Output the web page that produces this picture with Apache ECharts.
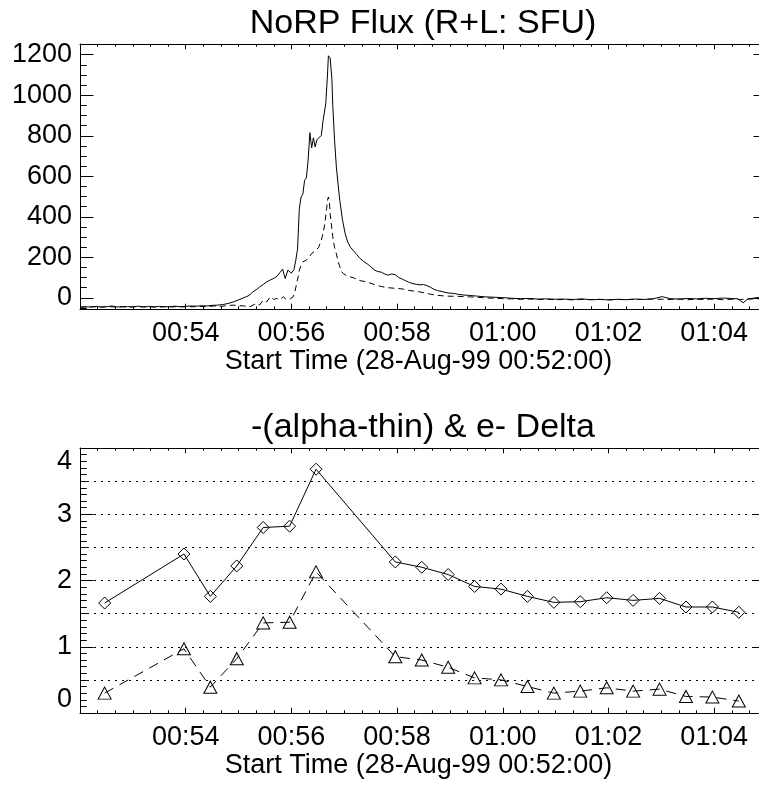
<!DOCTYPE html>
<html><head><meta charset="utf-8">
<script src="https://cdn.jsdelivr.net/npm/echarts@6/dist/echarts.min.js"></script>
<style>html,body{margin:0;padding:0;background:#fff}#c{width:759px;height:786px}</style>
</head><body><div id="c"></div>
<script>
// seconds after 00:52:00
const solidTimes = [0,6,12,18,24,30,36,42,48,54,60,66,72,78,84,90,96,102,108,114,120,126,132,138,144,150,156,162,168,174,180,184,188,192,196,200,204,208,212,216,220,224,227,230,233,236,240,243,245,247,249,251,253,255,257,259,261,263,265,267,269,271,274,276,279,281,282,284,286,287,289,291,293,295,298,301,304,307,310,314,318,322,326,329,331,334,338,342,346,350,354,358,362,366,370,374,378,382,386,390,394,398,402,406,412,418,424,430,436,442,450,460,470,480,490,500,510,520,530,540,550,560,570,580,590,600,610,620,630,640,650,661,670,680,690,700,710,720,730,740,747,753,758,764,770,776,780];
const solidFlux = [-46,-44,-45,-42,-45,-44,-40,-45,-44,-43,-45,-41,-44,-43,-45,-42,-44,-43,-41,-44,-42,-40,-41,-39,-40,-37,-36,-33,-28,-20,-10,-3,4,12,28,40,54,66,79,88,96,108,125,142,95,137,122,140,186,240,440,498,512,580,592,680,815,740,790,745,780,786,802,876,958,1100,1195,1185,1080,950,780,650,560,480,385,318,275,250,235,215,194,180,168,158,150,138,130,127,118,112,118,114,100,92,84,76,70,67,64,66,60,52,42,36,30,24,22,17,14,12,9,5,3,1,-2,-4,-3,-6,-5,-7,-6,-8,-5,-9,-8,-10,-7,-9,-6,-8,-5,6,-4,-6,-3,-5,-2,-4,-1,-3,-5,-24,-6,-2,2,-1,5];
const dashedTimes = [0,8,16,24,32,40,48,56,64,72,80,88,96,104,112,120,128,136,144,152,160,168,174,180,186,193,200,204,208,212,216,220,223,227,231,234,236,239,242,244,246,248,249,251,253,255,257,260,263,265,268,271,274,276,278,280,281,282,283,284,286,287,289,291,293,295,297,299,302,306,310,318,326,334,342,350,358,366,372,378,385,392,398,405,412,420,427,435,442,450,461,470,480,490,500,510,520,530,540,550,560,570,580,590,600,610,620,630,640,650,660,670,680,690,700,710,720,730,740,750,760,770,780];
const dashedFlux = [-46,-45,-44,-46,-43,-45,-44,-46,-43,-45,-44,-46,-44,-45,-43,-45,-44,-42,-44,-40,-42,-38,-36,-38,-40,-44,-28,-35,-11,-20,5,-8,-3,-8,5,-8,-11,-4,5,30,71,110,137,160,178,182,186,200,219,210,235,250,285,320,367,440,482,498,480,416,340,301,250,219,180,153,130,120,112,104,100,85,78,66,56,50,47,44,38,34,30,24,18,13,10,8,8,6,5,3,0,-2,-4,-5,-7,-6,-8,-7,-9,-8,-10,-8,-9,-7,-10,-8,-9,-7,-8,-6,-7,-8,-6,-9,-7,-8,-6,-9,-7,-8,-6,-5,-4];

const deltaTimes = [28,118,148,178,208,238,268,358,388,418,448,478,508,538,568,598,628,658,688,718,748];
const alphaThin = [1.66,2.40,1.76,2.22,2.80,2.82,3.68,2.28,2.20,2.09,1.91,1.87,1.76,1.67,1.68,1.74,1.70,1.73,1.60,1.60,1.52];
const electronDelta = [0.30,0.97,0.39,0.82,1.36,1.37,2.13,0.85,0.80,0.69,0.53,0.50,0.40,0.30,0.33,0.38,0.33,0.36,0.25,0.24,0.18];

const timeTickLabels = ['', '00:54', '00:56', '00:58', '01:00', '01:02', '01:04'];
const fluxTickValues = [0, 200, 400, 600, 800, 1000, 1200];
const fluxMinorTickValues = [-50, 50, 100, 150, 250, 300, 350, 450, 500, 550, 650, 700, 750, 850, 900, 950, 1050, 1100, 1150, 1250];
const deltaTickLabels = ['0', '1', '2', '3', '4'];

const FONT = 'Liberation Sans, Arial, Helvetica, sans-serif';
const BLACK = '#000';
const pairs = (xs, ys) => xs.map((x, i) => [x, ys[i]]);

function xAxes(gridIndex) {
  const base = {
    type: 'value', gridIndex, min: 0, max: 780, interval: 120,
    axisLine: { show: true, onZero: false, lineStyle: { color: BLACK, width: 1 } },
    axisTick: { show: true, inside: true, length: 5.3, lineStyle: { color: BLACK, width: 1 } },
    minorTick: { show: false },
    splitLine: { show: false }, minorSplitLine: { show: false }
  };
  const minor = {
    type: 'value', gridIndex, min: 0, max: 780, interval: 20,
    axisLine: { show: false, onZero: false },
    axisTick: { show: true, inside: true, length: 2.7, lineStyle: { color: BLACK, width: 1 } },
    axisLabel: { show: false }, splitLine: { show: false }
  };
  return [
    Object.assign({}, base, {
      position: 'bottom',
      axisLabel: { show: true, margin: 11, fontSize: 27, fontFamily: FONT, color: BLACK, hideOverlap: false,
        showMinLabel: true, showMaxLabel: false,
        formatter: v => timeTickLabels[Math.round(v / 120)] || '' },
      name: 'Start Time (28-Aug-99 00:52:00)', nameLocation: 'middle', nameGap: 38,
      nameTextStyle: { fontSize: 27, fontFamily: FONT, color: BLACK, padding: [0, 10, 0, 0] }
    }),
    Object.assign({}, base, { position: 'top', axisLabel: { show: false } }),
    Object.assign({}, minor, { position: 'bottom' }),
    Object.assign({}, minor, { position: 'top' })
  ];
}

const option = {
  animation: false,
  backgroundColor: '#fff',
  title: [
    { text: 'NoRP Flux (R+L: SFU)', left: 418, top: 2, textAlign: 'center',
      textStyle: { fontSize: 34, fontWeight: 'normal', fontFamily: FONT, color: BLACK } },
    { text: '-(alpha-thin) & e- Delta', left: 418, top: 406, textAlign: 'center',
      textStyle: { fontSize: 34, fontWeight: 'normal', fontFamily: FONT, color: BLACK } }
  ],
  grid: [
    { left: 80, top: 44, width: 687, height: 265, outerBoundsMode: 'none', containLabel: false },
    { left: 80, top: 448, width: 687, height: 265, outerBoundsMode: 'none', containLabel: false }
  ],
  xAxis: [...xAxes(0), ...xAxes(1)],
  yAxis: [
    { type: 'value', gridIndex: 0, position: 'left', min: -55, max: 1253,
      axisLine: { show: true, onZero: false, lineStyle: { color: BLACK, width: 1 } },
      axisTick: { show: true, inside: true, length: 13.5, customValues: fluxTickValues, lineStyle: { color: BLACK } },
      axisLabel: { show: true, margin: 8, fontSize: 27, fontFamily: FONT, color: BLACK, customValues: fluxTickValues,
        hideOverlap: false, formatter: v => String(v) },
      splitLine: { show: false } },
    { type: 'value', gridIndex: 0, position: 'left', min: -55, max: 1253,
      axisLine: { show: false, onZero: false },
      axisTick: { show: true, inside: true, length: 6.8, customValues: fluxMinorTickValues, lineStyle: { color: BLACK } },
      axisLabel: { show: false }, splitLine: { show: false } },
    { type: 'value', gridIndex: 0, position: 'right', min: -55, max: 1253,
      axisLine: { show: true, onZero: false, lineStyle: { color: BLACK } },
      axisTick: { show: true, inside: true, length: 13.5, customValues: fluxTickValues, lineStyle: { color: BLACK } },
      axisLabel: { show: false }, splitLine: { show: false } },
    { type: 'value', gridIndex: 1, position: 'left', min: 0, max: 4, interval: 1,
      axisLine: { show: true, onZero: false, lineStyle: { color: BLACK, width: 1 } },
      axisTick: { show: true, inside: true, length: 13.5, lineStyle: { color: BLACK } },
      axisLabel: { show: true, margin: 8, fontSize: 27, fontFamily: FONT, color: BLACK, hideOverlap: false,
        verticalAlignMinLabel: 'bottom', verticalAlignMaxLabel: 'top',
        formatter: v => deltaTickLabels[Math.round(v)] },
      splitLine: { show: false } },
    { type: 'value', gridIndex: 1, position: 'right', min: 0, max: 4, interval: 1,
      axisLine: { show: true, onZero: false, lineStyle: { color: BLACK } },
      axisTick: { show: true, inside: true, length: 13.5, lineStyle: { color: BLACK } },
      axisLabel: { show: false }, splitLine: { show: false } },
    { type: 'value', gridIndex: 1, position: 'left', min: 0, max: 4, interval: 0.5,
      axisLine: { show: false, onZero: false }, axisTick: { show: false }, axisLabel: { show: false },
      splitLine: { show: true, lineStyle: { color: BLACK, width: 1, type: [2, 5] } } },
    { type: 'value', gridIndex: 1, position: 'left', min: 0, max: 4, interval: 0.1,
      axisLine: { show: false, onZero: false }, axisLabel: { show: false }, splitLine: { show: false },
      axisTick: { show: true, inside: true, length: 6.8, lineStyle: { color: BLACK } } }
  ],
  series: [
    { type: 'line', xAxisIndex: 0, yAxisIndex: 0, data: pairs(solidTimes, solidFlux), showSymbol: false,
      symbol: 'none', lineStyle: { color: BLACK, width: 1 }, silent: true },
    { type: 'line', xAxisIndex: 0, yAxisIndex: 0, data: pairs(dashedTimes, dashedFlux), showSymbol: false,
      symbol: 'none', lineStyle: { color: BLACK, width: 1, type: [6, 4] }, silent: true },
    { type: 'line', xAxisIndex: 4, yAxisIndex: 3, data: pairs(deltaTimes, alphaThin),
      symbol: 'diamond', symbolSize: [12, 12], showAllSymbol: true,
      itemStyle: { color: 'rgba(0,0,0,0)', borderColor: BLACK, borderWidth: 1 },
      lineStyle: { color: BLACK, width: 1 }, silent: true },
    { type: 'line', xAxisIndex: 4, yAxisIndex: 3, data: pairs(deltaTimes, electronDelta),
      symbol: 'triangle', symbolSize: [13, 12], showAllSymbol: true,
      itemStyle: { color: 'rgba(0,0,0,0)', borderColor: BLACK, borderWidth: 1 },
      lineStyle: { color: BLACK, width: 1, type: [10, 7] }, silent: true }
  ]
};
const chart = echarts.init(document.getElementById('c'), null, { renderer: 'canvas' });
chart.setOption(option);
</script></body></html>
